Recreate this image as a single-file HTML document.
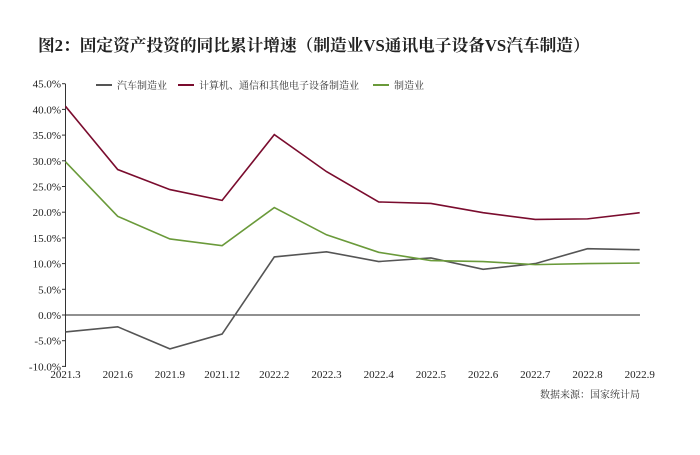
<!DOCTYPE html>
<html><head><meta charset="utf-8"><style>
body{margin:0;background:#fff;}
svg text{font-family:"Liberation Serif","Noto Serif CJK SC",serif;}
</style></head><body>
<svg id="s" width="700" height="450" xmlns="http://www.w3.org/2000/svg">
<text x="38" y="51" font-size="16.7" font-weight="bold" fill="#222" style="font-family:'Liberation Serif','Noto Serif CJK SC',serif">图2：固定资产投资的同比累计增速（制造业VS通讯电子设备VS汽车制造）</text>
<g font-size="11" fill="#333">
<line x1="96" y1="85" x2="112" y2="85" stroke="#555" stroke-width="2"/>
<text x="117" y="89" style="font-family:'Noto Serif CJK SC',serif" font-size="10">汽车制造业</text>
<line x1="178" y1="85" x2="194" y2="85" stroke="#7a0c2e" stroke-width="2"/>
<text x="199" y="89" style="font-family:'Noto Serif CJK SC',serif" font-size="10">计算机、通信和其他电子设备制造业</text>
<line x1="373" y1="85" x2="389" y2="85" stroke="#6a9a3a" stroke-width="2"/>
<text x="394" y="89" style="font-family:'Noto Serif CJK SC',serif" font-size="10">制造业</text>
</g>
<line x1="65.5" y1="84" x2="65.5" y2="367" stroke="#333" stroke-width="1"/>
<line x1="65" y1="315" x2="640" y2="315" stroke="#222" stroke-width="1"/>
<g id="yt" font-size="11" fill="#222" text-anchor="end"></g>
<g id="xt" font-size="11" fill="#222" text-anchor="middle"></g>
<g id="lines" fill="none" stroke-width="1.6"></g>
<text x="640" y="398" font-size="10" fill="#333" text-anchor="end" style="font-family:'Noto Serif CJK SC',serif">数据来源：国家统计局</text>
</svg>
<script>
var NS="http://www.w3.org/2000/svg";
function Y(v){return 315-v*5.14;}
function X(i){return 65.5+i*52.2;}
var yt=document.getElementById("yt");
for(var v=45;v>=-10;v-=5){
 var t=document.createElementNS(NS,"text");t.setAttribute("x",61);t.setAttribute("y",Y(v)+4);t.textContent=v.toFixed(1)+"%";yt.appendChild(t);
 var l=document.createElementNS(NS,"line");l.setAttribute("x1",62);l.setAttribute("x2",65.5);l.setAttribute("y1",Y(v));l.setAttribute("y2",Y(v));l.setAttribute("stroke","#333");yt.appendChild(l);
}
var labs=["2021.3","2021.6","2021.9","2021.12","2022.2","2022.3","2022.4","2022.5","2022.6","2022.7","2022.8","2022.9"];
var xt=document.getElementById("xt");
labs.forEach(function(s,i){var t=document.createElementNS(NS,"text");t.setAttribute("x",X(i));t.setAttribute("y",378);t.textContent=s;xt.appendChild(t);});
var data=[
 ["#555",[-3.3,-2.3,-6.6,-3.7,11.3,12.3,10.4,11.1,8.9,10.0,12.9,12.7]],
 ["#7a0c2e",[40.6,28.3,24.4,22.3,35.1,27.9,22.0,21.7,19.9,18.6,18.7,19.9]],
 ["#6a9a3a",[29.8,19.2,14.8,13.5,20.9,15.6,12.2,10.6,10.4,9.8,10.0,10.1]]];
var g=document.getElementById("lines");
data.forEach(function(d){var p=document.createElementNS(NS,"polyline");p.setAttribute("stroke",d[0]);p.setAttribute("points",d[1].map(function(v,i){return X(i)+","+Y(v);}).join(" "));g.appendChild(p);});
</script>
</body></html>
